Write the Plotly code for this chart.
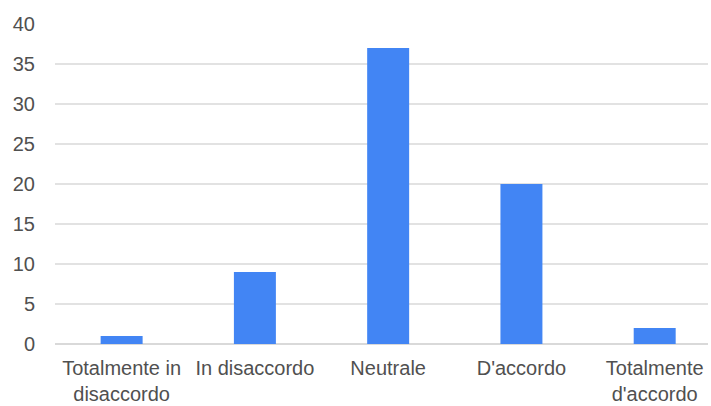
import plotly.graph_objects as go

# Survey responses per agreement level
categories = ["Totalmente in<br>disaccordo", "In disaccordo", "Neutrale", "D'accordo", "Totalmente<br>d'accordo"]
counts = [1, 9, 37, 20, 2]
y_ticks = [0, 5, 10, 15, 20, 25, 30, 35, 40]

fig = go.Figure(
    go.Bar(
        x=list(range(len(categories))),
        y=counts,
        width=0.315,
        marker=dict(color="#4285F4", line=dict(width=0)),
        hoverinfo="x+y",
    )
)

font_color = "#505050"
fig.update_layout(
    width=711,
    height=406,
    margin=dict(l=55, r=3, t=24, b=62),
    paper_bgcolor="white",
    plot_bgcolor="white",
    showlegend=False,
    font=dict(family="Liberation Sans, Arial, sans-serif", size=20, color=font_color),
)
fig.update_xaxes(
    range=[-0.5, 4.4],
    tickmode="array",
    tickvals=list(range(len(categories))),
    ticktext=categories,
    showgrid=False,
    showline=False,
    zeroline=False,
    ticks="",
    ticklabelstandoff=10,
    automargin=False,
    tickfont=dict(size=20, color=font_color),
)
fig.update_yaxes(
    range=[0, 40],
    tickmode="array",
    tickvals=y_ticks,
    showgrid=True,
    gridcolor="#e2e2e2",
    gridwidth=1.5,
    zeroline=True,
    zerolinecolor="#d9d9d9",
    zerolinewidth=2,
    showline=False,
    ticks="",
    ticklabelstandoff=19,
    automargin=False,
    tickfont=dict(size=20, color=font_color),
)

fig.write_html("out.html")
